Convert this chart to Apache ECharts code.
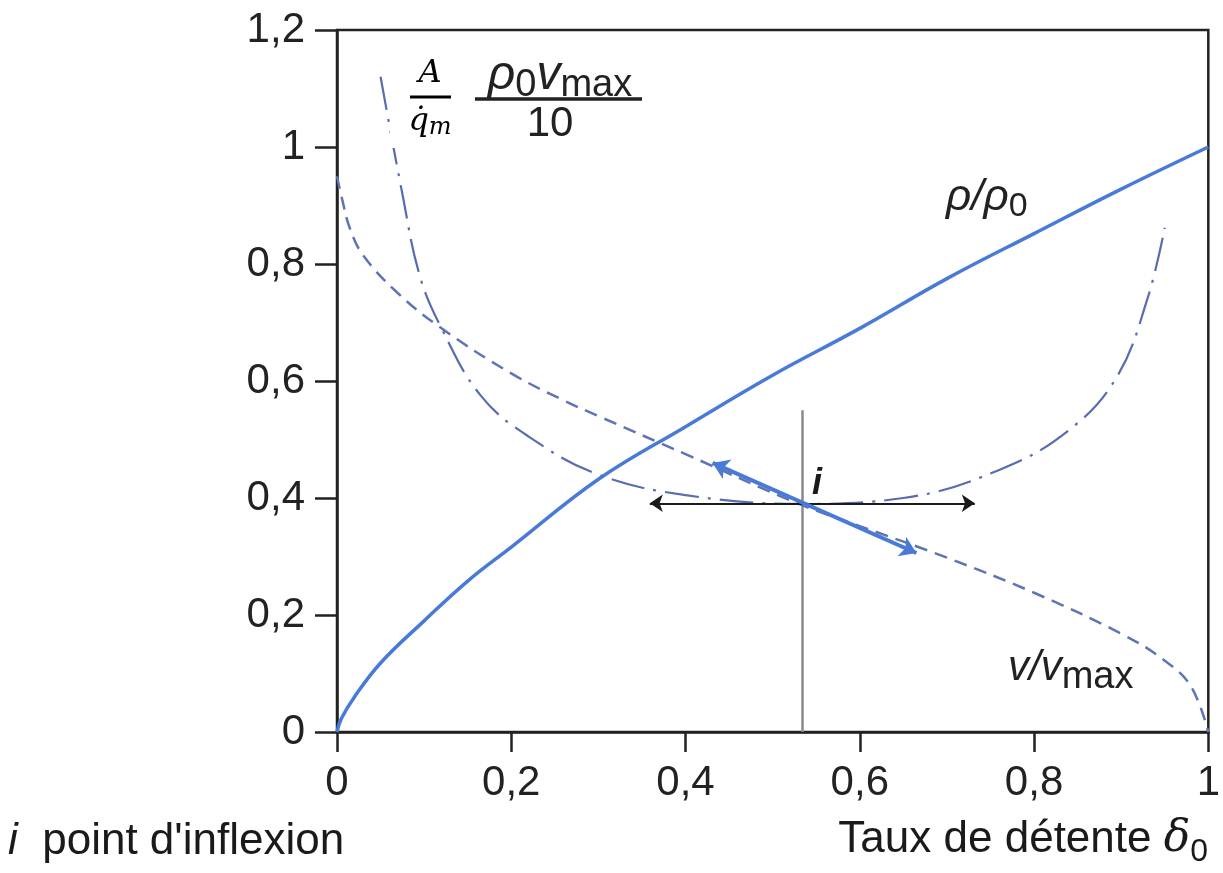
<!DOCTYPE html>
<html>
<head>
<meta charset="utf-8">
<script src="https://cdn.jsdelivr.net/npm/echarts@6/dist/echarts.min.js"></script>
<style>html,body{margin:0;padding:0;background:#fff}#c{width:1223px;height:873px}</style>
</head>
<body>
<div id="c"></div>
<script>
// ---- data ----
const xTickLabels = ['0', '0,2', '0,4', '0,6', '0,8', '1'];
const yTickLabels = ['0', '0,2', '0,4', '0,6', '0,8', '1', '1,2'];

// rho / rho0 (solid)
const rhoX = [0, 0.005, 0.02, 0.05, 0.1, 0.15, 0.2, 0.3, 0.4, 0.5, 0.6, 0.7, 0.8, 0.9, 1.0];
const rhoY = [0, 0.023, 0.06, 0.118, 0.19, 0.258, 0.316, 0.432, 0.522, 0.61, 0.69, 0.775, 0.852, 0.928, 1.0];

// v / vmax (dashed)
const velX = [0, 0.006, 0.015, 0.03, 0.07, 0.12, 0.2, 0.26, 0.3, 0.4, 0.53, 0.6, 0.7, 0.8, 0.9, 0.95, 0.98, 1.0];
const velY = [0.95, 0.91, 0.86, 0.815, 0.75, 0.69, 0.613, 0.567, 0.54, 0.475, 0.39, 0.352, 0.298, 0.238, 0.168, 0.122, 0.078, 0.0];

// A/qm * rho0 vmax / 10 (dash-dot)
const secX = [0.05, 0.075, 0.095, 0.12, 0.165, 0.22, 0.3, 0.4, 0.53, 0.65, 0.76, 0.84, 0.895, 0.93, 0.95];
const secY = [1.12, 0.92, 0.78, 0.69, 0.575, 0.505, 0.44, 0.405, 0.39, 0.40, 0.448, 0.516, 0.607, 0.74, 0.862];

// annotations (data coordinates)
const inflVertical = [[0.534, 0], [0.534, 0.55]];
const inflArrows = [[0.359, 0.391], [0.732, 0.391]];
const inflTangent = [[0.431, 0.46], [0.665, 0.306]];

const zip = (xs, ys) => xs.map((x, i) => [x, ys[i]]);

const chart = echarts.init(document.getElementById('c'));
const sans = '"Liberation Sans", Arial, sans-serif';
const serif = '"DejaVu Serif", "Liberation Serif", serif';
const ink = '#222';

chart.setOption({
  animation: false,
  grid: { left: 337, right: 14, top: 30, bottom: 141, show: true, borderColor: ink, borderWidth: 2.5 },
  xAxis: {
    type: 'value', min: 0, max: 1, interval: 0.2,
    axisLine: { show: true, lineStyle: { color: ink, width: 2.5 } },
    axisTick: { show: true, length: 20, lineStyle: { color: ink, width: 2.5 } },
    splitLine: { show: false },
    axisLabel: { margin: 30, color: ink, fontSize: 42, fontFamily: sans,
      formatter: v => xTickLabels[Math.round(v / 0.2)] }
  },
  yAxis: {
    type: 'value', min: 0, max: 1.2, interval: 0.2,
    axisLine: { show: true, lineStyle: { color: ink, width: 2.5 } },
    axisTick: { show: true, length: 22, lineStyle: { color: ink, width: 2.5 } },
    splitLine: { show: false },
    axisLabel: { margin: 32, color: ink, fontSize: 42, fontFamily: sans,
      formatter: v => yTickLabels[Math.round(v / 0.2)] }
  },
  series: [
    { type: 'line', data: zip(rhoX, rhoY), showSymbol: false, smooth: 0.4,
      lineStyle: { color: '#4a7ad8', width: 3.5 }, z: 3 },
    { type: 'line', data: zip(velX, velY), showSymbol: false, smooth: 0.4,
      lineStyle: { color: '#5f74b4', width: 2.5, type: [13, 8] }, z: 3 },
    { type: 'line', data: zip(secX, secY), showSymbol: false, smooth: 0.4,
      lineStyle: { color: '#5a6cb0', width: 2.2, type: [34, 9, 3, 9] }, z: 3 },
    { type: 'lines', coordinateSystem: 'cartesian2d', symbol: ['none', 'none'],
      lineStyle: { color: '#8a8a8a', width: 2.5, opacity: 1 },
      data: [{ coords: inflVertical }], z: 2 },
    { type: 'lines', coordinateSystem: 'cartesian2d', symbol: ['arrow', 'arrow'], symbolSize: 13,
      lineStyle: { color: '#1a1a1a', width: 2.2, opacity: 1 },
      data: [{ coords: inflArrows }], z: 4 },
    { type: 'lines', coordinateSystem: 'cartesian2d', symbol: ['arrow', 'arrow'], symbolSize: 16,
      lineStyle: { color: '#4a7ad8', width: 4, opacity: 1 },
      data: [{ coords: inflTangent }], z: 5 }
  ],
  graphic: [
    // top-left composite label
    { type: 'rect', x: 390, y: 32, shape: { width: 80, height: 116 }, style: { fill: '#fff' }, z: 10 },
    { type: 'text', x: 430, y: 74, z: 11, style: { text: 'A', font: 'italic 32px ' + serif, fill: '#000', align: 'center', verticalAlign: 'middle' } },
    { type: 'line', z: 11, shape: { x1: 410, y1: 97, x2: 451, y2: 97 }, style: { stroke: '#000', lineWidth: 3 } },
    { type: 'text', x: 430, y: 122, z: 11, style: { text: '{q|q\u0307}{m|m}', fill: '#000', align: 'center', verticalAlign: 'middle',
      rich: { q: { font: 'italic 32px ' + serif, fill: '#000' },
              m: { font: 'italic 24px ' + serif, fill: '#000', padding: [12, 0, 0, 0] } } } },
    { type: 'text', x: 560, y: 76, z: 11, style: { text: '{r|\u03C1}{s|0}{r|v}{s|max}', fill: ink, align: 'center', verticalAlign: 'middle',
      rich: { r: { font: 'italic 48px ' + sans, fill: ink },
              s: { font: '38px ' + sans, fill: ink, padding: [20, 0, 0, 0] } } } },
    { type: 'line', z: 11, shape: { x1: 475, y1: 99, x2: 642, y2: 99 }, style: { stroke: ink, lineWidth: 3.5 } },
    { type: 'text', x: 550, y: 124, z: 11, style: { text: '10', font: '42px ' + sans, fill: ink, align: 'center', verticalAlign: 'middle' } },
    // curve labels
    { type: 'text', x: 946, y: 198, z: 11, style: { text: '{r|\u03C1/\u03C1}{s|0}', verticalAlign: 'middle',
      rich: { r: { font: 'italic 44px ' + sans, fill: ink },
              s: { font: '34px ' + sans, fill: ink, padding: [18, 0, 0, 0] } } } },
    { type: 'text', x: 1008, y: 668, z: 11, style: { text: '{r|v/v}{s|max}', verticalAlign: 'middle',
      rich: { r: { font: 'italic 42px ' + sans, fill: ink },
              s: { font: '38px ' + sans, fill: ink, padding: [20, 0, 0, 0] } } } },
    { type: 'text', x: 812, y: 484, z: 11, style: { text: 'i', font: 'italic bold 36px ' + sans, fill: '#1a1a1a', verticalAlign: 'middle' } },
    // bottom captions
    { type: 'text', x: 8, y: 842, z: 11, style: { text: '{i|i}{t|  point d\'inflexion}', verticalAlign: 'middle',
      rich: { i: { font: 'italic 44px ' + sans, fill: '#1a1a1a' },
              t: { font: '44px ' + sans, fill: '#1a1a1a' } } } },
    { type: 'text', x: 1208, y: 840, z: 11, style: { text: '{t|Taux de détente }{d|\u03B4}{s|0}', align: 'right', verticalAlign: 'middle',
      rich: { t: { font: '44px ' + sans, fill: '#1a1a1a' },
              d: { font: 'italic 44px ' + serif, fill: '#1a1a1a' },
              s: { font: '32px ' + sans, fill: '#1a1a1a', padding: [24, 0, 0, 0] } } } }
  ]
});
</script>
</body>
</html>
